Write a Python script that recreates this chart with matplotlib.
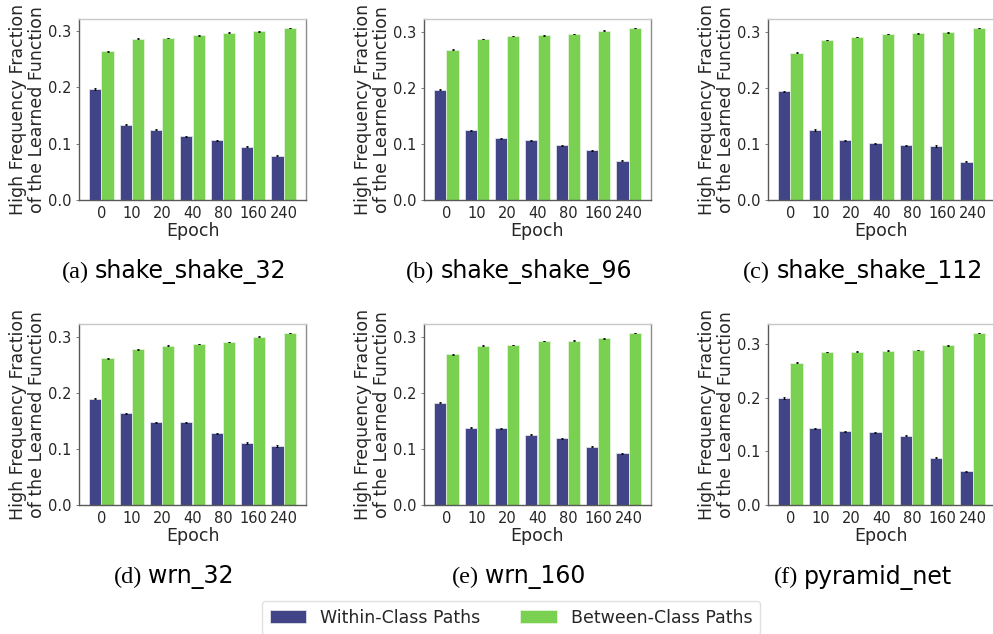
import numpy as np
import matplotlib
matplotlib.use('Agg')
import matplotlib.pyplot as plt

epochs = ['0', '10', '20', '40', '80', '160', '240']
models = ['shake_shake_32', 'shake_shake_96', 'shake_shake_112', 'wrn_32', 'wrn_160', 'pyramid_net']
letters = ['(a)', '(b)', '(c)', '(d)', '(e)', '(f)']

within_ss32 = [0.1965, 0.1335, 0.1247, 0.1130, 0.1060, 0.0947, 0.0788]
between_ss32 = [0.2635, 0.2860, 0.2870, 0.2920, 0.2965, 0.2990, 0.3050]
within_ss96 = [0.1970, 0.1245, 0.1100, 0.1067, 0.0978, 0.0889, 0.0700]
between_ss96 = [0.2690, 0.2880, 0.2934, 0.2946, 0.2970, 0.3030, 0.3077]
within_ss112 = [0.1940, 0.1249, 0.1065, 0.1010, 0.0980, 0.0964, 0.0686]
between_ss112 = [0.2630, 0.2858, 0.2910, 0.2964, 0.2976, 0.2988, 0.3070]
within_wrn32 = [0.1900, 0.1636, 0.1476, 0.1476, 0.1280, 0.1108, 0.1055]
between_wrn32 = [0.2620, 0.2780, 0.2850, 0.2875, 0.2916, 0.3010, 0.3076]
within_wrn160 = [0.1830, 0.1380, 0.1370, 0.1260, 0.1190, 0.1040, 0.0925]
between_wrn160 = [0.2690, 0.2850, 0.2860, 0.2930, 0.2940, 0.2980, 0.3076]
within_pyr = [0.1998, 0.1429, 0.1373, 0.1354, 0.1290, 0.0884, 0.0631]
between_pyr = [0.2653, 0.2857, 0.2857, 0.2876, 0.2888, 0.2975, 0.3210]

within_err = [0.0012, 0.0012, 0.0012, 0.0010, 0.0010, 0.0012, 0.0010]
between_err = [0.0006, 0.0005, 0.0006, 0.0006, 0.0006, 0.0005, 0.0005]

within = [within_ss32, within_ss96, within_ss112, within_wrn32, within_wrn160, within_pyr]
between = [between_ss32, between_ss96, between_ss112, between_wrn32, between_wrn160, between_pyr]

blue = '#414487'
green = '#7ad151'

fig = plt.figure(figsize=(9.93, 6.34), dpi=100)
W, H = 993, 634
lefts = [79, 424, 768]
axw = 227
tops = [19, 324]
axh = 181
cap_x = [174, 519, 863]
cap_y = [272, 577]

x = np.arange(len(epochs))
ekw = dict(ecolor='black', elinewidth=1, capsize=0.8, capthick=0.6)
for i in range(6):
    r, c = divmod(i, 3)
    ax = fig.add_axes([lefts[c] / W, 1 - (tops[r] + axh) / H, axw / W, axh / H])
    b1 = ax.bar(x - 0.2, within[i], 0.4, yerr=within_err, color=blue, edgecolor='#e8eef0',
                linewidth=0.5, error_kw=ekw, label='Within-Class Paths')
    b2 = ax.bar(x + 0.2, between[i], 0.4, yerr=between_err, color=green, edgecolor='#e8f5e0',
                linewidth=0.5, error_kw=ekw, label='Between-Class Paths')
    ax.set_xticks(x)
    ax.set_xticklabels(epochs, fontsize=10.5, color='#262626')
    ax.set_yticks([0.0, 0.1, 0.2, 0.3])
    ax.set_yticklabels(['0.0', '0.1', '0.2', '0.3'], fontsize=10.5, color='#262626')
    ax.tick_params(axis='x', length=0, pad=4)
    ax.tick_params(axis='y', length=2.5, width=0.6, color='0.4', pad=3)
    ax.set_xlabel('Epoch', fontsize=12.5, labelpad=1, color='#262626')
    ax.set_ylabel('High Frequency Fraction\nof the Learned Function', fontsize=12.5,
                  linespacing=1.1, labelpad=1, color='#262626')
    ax.spines['left'].set_color('0.35')
    ax.spines['bottom'].set_color('0.35')
    ax.spines['right'].set_color('0.55')
    ax.spines['top'].set_color('0.78')
    for s in ax.spines.values():
        s.set_linewidth(1.0)

    # caption: serif letter + sans model name, centred together
    t1 = fig.text(0, 1 - cap_y[r] / H, letters[i], family='Liberation Serif',
                  fontsize=17.5, va='center', ha='left')
    t2 = fig.text(0, 1 - cap_y[r] / H, models[i], family='DejaVu Sans',
                  fontsize=17, va='center', ha='left')
    fig.canvas.draw()
    rend = fig.canvas.get_renderer()
    w1 = t1.get_window_extent(rend).width
    w2 = t2.get_window_extent(rend).width
    gap = 6
    start = cap_x[c] - (w1 + gap + w2) / 2
    t1.set_x(start / W)
    t2.set_x((start + w1 + gap) / W)

leg = fig.legend([b1.patches[0], b2.patches[0]], ['Within-Class Paths', 'Between-Class Paths'],
                 loc='upper center', bbox_to_anchor=(511 / W, 1 - 601 / H), ncol=2,
                 fontsize=12.5, frameon=True, handlelength=2.1, handleheight=0.8,
                 columnspacing=2.3, borderpad=0.45, borderaxespad=0, fancybox=True)
leg.get_frame().set_edgecolor('0.85')
for t in leg.get_texts():
    t.set_color('#262626')

fig.savefig('out.png', dpi=100)
